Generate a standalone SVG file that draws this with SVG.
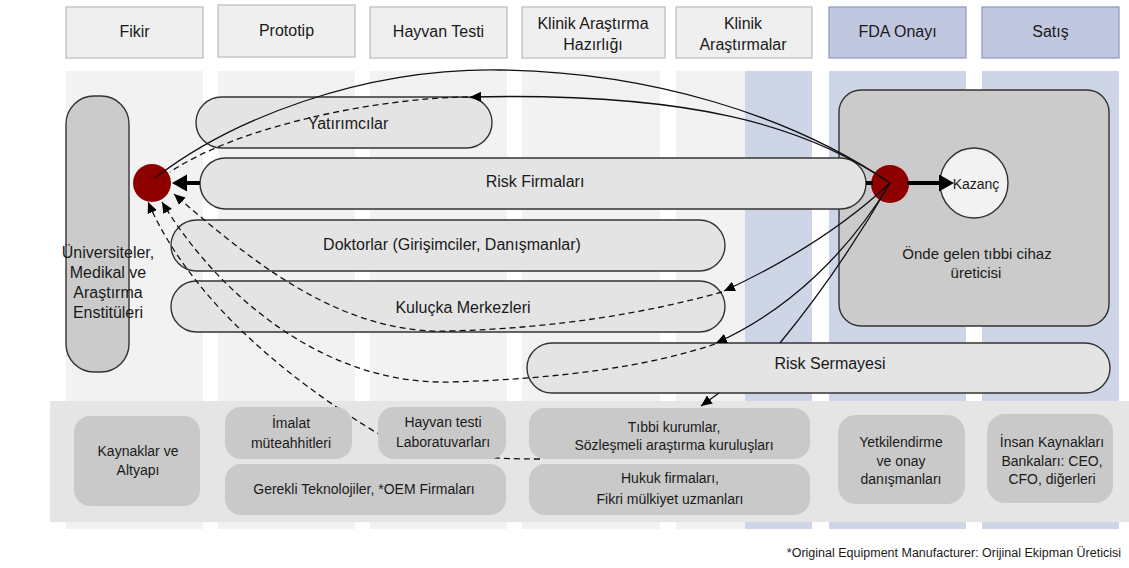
<svg xmlns="http://www.w3.org/2000/svg" width="1129" height="568" viewBox="0 0 1129 568">
  <style>
    .lane { fill: #f2f2f2; }
    .lane-blue { fill: #cdd5e7; }
    .hdr { fill: #efefef; stroke: #b9b9b9; stroke-width: 1.2; }
    .hdr-blue { fill: #c2c7e0; stroke: #8d96bf; stroke-width: 1.2; }
    .pill { fill: #e4e4e4; stroke: #333; stroke-width: 1.4; }
    .pill-dark { fill: #cbcbcb; stroke: #333; stroke-width: 1.4; }
    .res { fill: #c9c9c9; }
    .dot { fill: #8e0000; }
    .t { font-family: "Liberation Sans", Arial, sans-serif; font-size: 16px; fill: #1a1a1a; text-anchor: middle; }
    .s { font-family: "Liberation Sans", Arial, sans-serif; font-size: 14px; fill: #1a1a1a; text-anchor: middle; }
    .link { fill: none; stroke: #111; stroke-width: 1.3; }
    .dash { fill: none; stroke: #111; stroke-width: 1.3; stroke-dasharray: 6 4; }
    .thick { fill: none; stroke: #000; stroke-width: 4; }
  </style>
  <defs>
    <marker id="arr" markerUnits="userSpaceOnUse" markerWidth="12" markerHeight="10" refX="11" refY="5" orient="auto">
      <path d="M0,0 L11,5 L0,10 z" fill="#000"/>
    </marker>
    <marker id="arr-big" markerUnits="userSpaceOnUse" markerWidth="16" markerHeight="18" refX="0" refY="8.5" orient="auto">
      <path d="M0,0 L15,8.5 L0,17 z" fill="#000"/>
    </marker>
  </defs>

  <rect x="0" y="0" width="1129" height="568" fill="#ffffff"/>

  <!-- stage lanes -->
  <g id="lanes">
    <rect class="lane" x="66" y="71" width="137" height="458"/>
    <rect class="lane" x="218" y="71" width="137" height="458"/>
    <rect class="lane" x="370" y="71" width="137" height="458"/>
    <rect class="lane" x="522" y="71" width="138" height="458"/>
    <rect class="lane" x="676" y="71" width="69" height="458"/>
    <rect class="lane-blue" x="745" y="71" width="67" height="458"/>
    <rect class="lane-blue" x="829" y="71" width="137" height="458"/>
    <rect class="lane-blue" x="982" y="71" width="137" height="458"/>
  </g>

  <!-- stage headers -->
  <g id="stage-fikir">
    <rect class="hdr" x="66" y="7" width="137" height="51"/>
    <text class="t" x="134.5" y="37">Fikir</text>
  </g>
  <g id="stage-prototip">
    <rect class="hdr" x="218" y="5" width="137" height="52"/>
    <text class="t" x="286.5" y="36">Prototip</text>
  </g>
  <g id="stage-hayvan">
    <rect class="hdr" x="370" y="7" width="137" height="51"/>
    <text class="t" x="438.5" y="37">Hayvan Testi</text>
  </g>
  <g id="stage-klinik-hazirlik">
    <rect class="hdr" x="522" y="7" width="143" height="51"/>
    <text class="t" x="593" y="29">Klinik Araştırma</text>
    <text class="t" x="593" y="50">Hazırlığı</text>
  </g>
  <g id="stage-klinik">
    <rect class="hdr" x="676" y="7" width="136" height="51"/>
    <text class="t" x="743" y="29">Klinik</text>
    <text class="t" x="743" y="50">Araştırmalar</text>
  </g>
  <g id="stage-fda">
    <rect class="hdr-blue" x="829" y="7" width="137" height="51"/>
    <text class="t" x="897.5" y="37">FDA Onayı</text>
  </g>
  <g id="stage-satis">
    <rect class="hdr-blue" x="982" y="7" width="137" height="51"/>
    <text class="t" x="1050.5" y="37">Satış</text>
  </g>

  <!-- resource band behind the lower boxes -->
  <rect id="resource-band" x="50" y="401" width="1079" height="121" fill="#e5e5e5"/>

  <!-- manufacturer block sits under the venture pill -->
  <g id="node-uretici">
    <rect class="pill-dark" x="839" y="90" width="270" height="236" rx="22"/>
    <text class="s" x="977" y="259" style="font-size:15px">Önde gelen tıbbi cihaz</text>
    <text class="s" x="976" y="278" style="font-size:15px">üreticisi</text>
  </g>

  <g id="node-universiteler">
    <rect class="pill-dark" x="66" y="96" width="63" height="276" rx="28" ry="28"/>
    <text class="t" x="108" y="258">Üniversiteler,</text>
    <text class="t" x="108" y="278">Medikal ve</text>
    <text class="t" x="108" y="298">Araştırma</text>
    <text class="t" x="108" y="318">Enstitüleri</text>
  </g>
  <g id="node-yatirimcilar">
    <rect class="pill" x="196" y="97" width="296" height="51" rx="25.5"/>
    <text class="t" x="348" y="129">Yatırımcılar</text>
  </g>
  <g id="node-risk-firmalari">
    <rect class="pill" x="200" y="158" width="666" height="51" rx="25.5"/>
    <text class="t" x="535" y="187">Risk Firmaları</text>
  </g>
  <g id="node-doktorlar">
    <rect class="pill" x="171" y="220" width="554" height="51" rx="25.5"/>
    <text class="t" x="452" y="250">Doktorlar (Girişimciler, Danışmanlar)</text>
  </g>
  <g id="node-kulucka">
    <rect class="pill" x="171" y="281" width="554" height="51" rx="25.5"/>
    <text class="t" x="463" y="313">Kuluçka Merkezleri</text>
  </g>
  <g id="node-risk-sermayesi">
    <rect class="pill" x="527" y="343" width="583" height="50" rx="25"/>
    <text class="t" x="830" y="369">Risk Sermayesi</text>
  </g>
  <g id="node-kazanc">
    <ellipse cx="974" cy="183" rx="34" ry="35" fill="#f2f2f2" stroke="#333" stroke-width="1.4"/>
    <text class="s" x="976" y="189">Kazanç</text>
  </g>
  <g id="node-hub-left">
    <circle class="dot" cx="152" cy="183" r="19"/>
  </g>
  <g id="node-hub-right">
    <circle class="dot" cx="890" cy="184" r="19"/>
  </g>

  <g id="connectors">
    <!-- thick flows -->
    <path class="thick" d="M200,183 L187,183" marker-end="url(#arr-big)"/>
    <path class="thick" d="M866,183 L873,183"/>
    <path class="thick" d="M907,183 L939,183" marker-end="url(#arr-big)"/>
    <!-- solid arcs out of the manufacturer hub -->
    <path class="link" d="M890,183 C790,115 650,72 500,70 C360,68 230,120 155,178"/>
    <path class="link" d="M890,183 C805,125 690,92 470,97" marker-end="url(#arr)"/>
    <path class="link" d="M890,183 C840,230 780,265 724,291" marker-end="url(#arr)"/>
    <path class="link" d="M890,183 C850,250 790,310 716,343" marker-end="url(#arr)"/>
    <path class="link" d="M890,183 Q840,270 780,343"/>
    <path class="link" d="M719,393 L701,406" marker-end="url(#arr)"/>
    <!-- dashed returns to the university hub -->
    <path class="dash" d="M468,97 C380,98 240,125 170,172"/>
    <path class="dash" d="M722,292 C650,312 560,328 450,331 C340,335 250,260 174,194" marker-end="url(#arr)"/>
    <path class="dash" d="M715,344 C650,366 560,379 450,382 C320,385 215,290 162,202" marker-end="url(#arr)"/>
    <path class="dash" d="M540,459 C450,459 410,448 377,433 C240,350 175,265 148,202" marker-end="url(#arr)"/>
  </g>

  <!-- resource boxes -->
  <g id="res-kaynaklar">
    <rect class="res" x="74" y="416" width="126" height="90" rx="16"/>
    <text class="s" x="138" y="456">Kaynaklar ve</text>
    <text class="s" x="138" y="475">Altyapı</text>
  </g>
  <g id="res-imalat">
    <rect class="res" x="225" y="407" width="127" height="52" rx="16"/>
    <text class="s" x="291" y="428">İmalat</text>
    <text class="s" x="291" y="448">müteahhitleri</text>
  </g>
  <g id="res-hayvan">
    <rect class="res" x="378" y="407" width="128" height="52" rx="16"/>
    <text class="s" x="443" y="427">Hayvan testi</text>
    <text class="s" x="443" y="447">Laboratuvarları</text>
  </g>
  <g id="res-teknoloji">
    <rect class="res" x="225" y="464" width="281" height="51" rx="16"/>
    <text class="s" x="364" y="494">Gerekli Teknolojiler, *OEM Firmaları</text>
  </g>
  <g id="res-tibbi">
    <rect class="res" x="529" y="408" width="281" height="51" rx="16"/>
    <text class="s" x="674" y="432">Tıbbi kurumlar,</text>
    <text class="s" x="674" y="450">Sözleşmeli araştırma kuruluşları</text>
  </g>
  <g id="res-hukuk">
    <rect class="res" x="529" y="464" width="281" height="51" rx="16"/>
    <text class="s" x="670" y="483">Hukuk firmaları,</text>
    <text class="s" x="670" y="504">Fikri mülkiyet uzmanları</text>
  </g>
  <g id="res-yetkilendirme">
    <rect class="res" x="838" y="415" width="127" height="89" rx="18"/>
    <text class="s" x="901" y="447">Yetkilendirme</text>
    <text class="s" x="901" y="466">ve onay</text>
    <text class="s" x="901" y="484">danışmanları</text>
  </g>
  <g id="res-insan">
    <rect class="res" x="987" y="414" width="126" height="89" rx="18"/>
    <text class="s" x="1052" y="447">İnsan Kaynakları</text>
    <text class="s" x="1052" y="466">Bankaları: CEO,</text>
    <text class="s" x="1052" y="484">CFO, diğerleri</text>
  </g>

  <text class="s" x="1121" y="557" style="font-size:12.5px;text-anchor:end">*Original Equipment Manufacturer: Orijinal Ekipman Üreticisi</text>
</svg>
